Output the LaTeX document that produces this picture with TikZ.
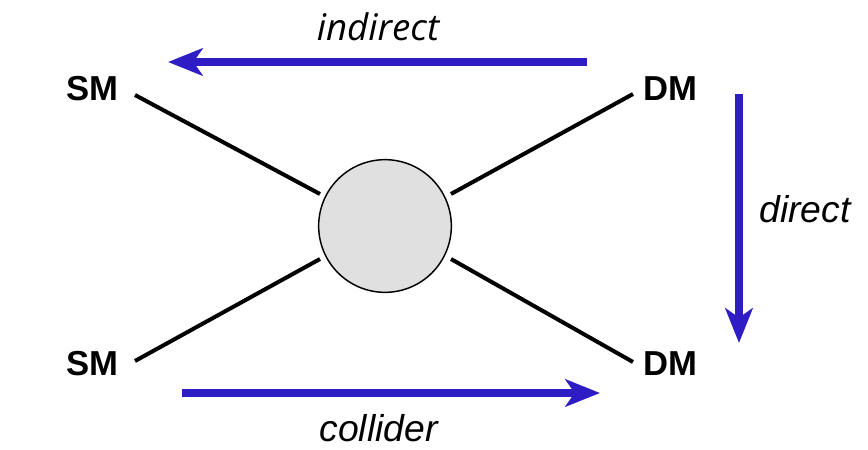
\documentclass[tikz,border=0pt]{standalone}
\usepackage{fontspec}
\setmainfont{Liberation Sans}
\newfontfamily\opensans{Open Sans}
\usetikzlibrary{arrows.meta}
\definecolor{arrblue}{RGB}{46,28,196}
\definecolor{blobgray}{RGB}{224,224,224}
\begin{document}
\begin{tikzpicture}[x=0.75pt,y=-0.75pt,
  lbl/.style={inner sep=0pt,anchor=base west,font=\fontsize{26}{30}\selectfont\bfseries},
  itl/.style={inner sep=0pt,font=\fontsize{28}{32}\selectfont\itshape},
  leg/.style={line width=3pt,black},
  flow/.style={line width=5.8pt,arrblue,-{Stealth[length=26pt,width=20.5pt,inset=7pt]}}]
\useasboundingbox (0,0) rectangle (868,450);
% labels
\node[lbl] (smt) at (66,100) {SM};
\node[lbl] (smb) at (66,375) {SM};
\node[lbl] (dmt) at (643,100) {DM};
\node[lbl] (dmb) at (643,375) {DM};
% blob
\node[circle,draw=black,line width=1.1pt,fill=blobgray,minimum size=99.5pt,inner sep=0pt] (blob) at (385,226) {};
% leg ends
\coordinate (a1) at (135,95);
\coordinate (a2) at (633,94);
\coordinate (a3) at (135,361);
\coordinate (a4) at (633,362);
\coordinate (b1) at (320,194);
\coordinate (b2) at (451,194);
\coordinate (b3) at (320,259);
\coordinate (b4) at (451,259);
\draw[leg] (a1) -- (b1);
\draw[leg] (a2) -- (b2);
\draw[leg] (a3) -- (b3);
\draw[leg] (a4) -- (b4);
% arrows
\coordinate (i1) at (587,62);
\coordinate (i2) at (168,62);
\coordinate (d1) at (739,94);
\coordinate (d2) at (739,343);
\coordinate (c1) at (182,393);
\coordinate (c2) at (600,393);
\draw[flow] (i1) -- (i2);
\draw[flow] (d1) -- (d2);
\draw[flow] (c1) -- (c2);
\node[itl,anchor=base,font=\opensans\fontsize{27.5}{32}\selectfont\itshape] (ind) at (378,40) {indirect};
\node[itl,anchor=base west] (dir) at (759,222) {direct};
\node[itl,anchor=base] (col) at (378.5,441) {collider};
\end{tikzpicture}
\end{document}
